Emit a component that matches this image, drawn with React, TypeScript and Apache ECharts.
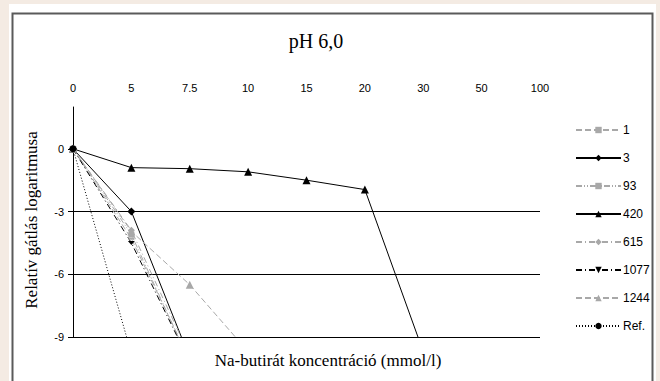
import React, { useEffect, useRef } from 'react';
import * as echarts from 'echarts';

// Na-butyrate concentrations (mmol/l), shown as evenly spaced categories
const concentrations = ['0', '5', '7.5', '10', '15', '20', '30', '50', '100'];
const yTickValues = [-9, -6, -3, 0];

// log relative inhibition per strain
const strainNames = ['1', '3', '93', '420', '615', '1077', '1244', 'Ref.'];
const values1 = [0, -4.3, -10.1];
const values3 = [0, -3.0, -10.0];
const values93 = [0, -4.1, -10.2];
const values420 = [0, -0.9, -0.95, -1.1, -1.5, -1.95, -9.7];
const values615 = [0, -3.9, -9.9];
const values1077 = [0, -4.5, -10.2];
const values1244 = [0, -3.95, -6.5, -9.7];
const valuesRef = [0, -9.8];

const GRAY = '#a8a8a8';
const BLACK = '#000000';
const SERIF = '"Liberation Serif", "Times New Roman", serif';

export default function App() {
  const ref = useRef<HTMLDivElement>(null);

  useEffect(() => {
    if (!ref.current) return;
    document.body.style.background = '#f4ebe3';
    const chart = echarts.init(ref.current, undefined, { renderer: 'svg' });

    const mk = (
      name: string,
      data: number[],
      color: string,
      dash: any,
      symbol: string,
      symbolSize: any,
    ) => ({
      name,
      type: 'line',
      data,
      symbol,
      symbolSize,
      showSymbol: true,
      clip: true,
      itemStyle: { color },
      lineStyle: { color, width: 1, type: dash },
      z: 5,
    });

    const series = [
      mk(strainNames[0], values1, GRAY, [6, 3], 'rect', [6, 2]),
      mk(strainNames[1], values3, BLACK, 'solid', 'diamond', 8),
      mk(strainNames[2], values93, GRAY, [6, 2, 1, 2, 1, 2], 'rect', 6),
      mk(strainNames[3], values420, BLACK, 'solid', 'triangle', 8),
      mk(strainNames[4], values615, GRAY, [6, 3, 1, 3], 'diamond', 7),
      mk(strainNames[5], values1077, BLACK, [6, 3, 1, 3], 'path://M0,0L10,0L5,6Z', [7, 4]),
      mk(strainNames[6], values1244, GRAY, [6, 3], 'triangle', 8),
      mk(strainNames[7], valuesRef, BLACK, [1, 2], 'circle', 7),
    ];

    chart.setOption({
      animation: false,
      backgroundColor: 'transparent',
      textStyle: { fontFamily: 'Liberation Sans, Arial, sans-serif' },
      graphic: [
        {
          type: 'rect',
          z: -10,
          shape: { x: 9, y: 4, width: 647, height: 400 },
          style: { fill: '#ffffff' },
          silent: true,
        },
        {
          type: 'rect',
          z: -9,
          shape: { x: 12.5, y: 13.5, width: 640, height: 380 },
          style: { fill: '#ffffff', stroke: '#5a5a5a', lineWidth: 2 },
          silent: true,
        },
        {
          type: 'text',
          x: 328,
          y: 360,
          style: {
            text: 'Na-butirát koncentráció (mmol/l)',
            font: '17px ' + SERIF,
            fill: '#000',
            align: 'center',
            verticalAlign: 'middle',
          },
        },
        {
          type: 'text',
          x: 31,
          y: 220,
          rotation: Math.PI / 2,
          style: {
            text: 'Relatív gátlás logaritmusa',
            font: '17px ' + SERIF,
            fill: '#000',
            align: 'center',
            verticalAlign: 'middle',
          },
        },
      ],
      title: {
        text: 'pH 6,0',
        left: 311,
        top: 26,
        textAlign: 'center',
        textStyle: {
          fontFamily: SERIF,
          fontSize: 20,
          fontWeight: 'normal',
          color: '#000',
        },
      },
      legend: {
        orient: 'vertical',
        left: 570,
        top: 119,
        itemWidth: 45,
        itemHeight: 8,
        itemGap: 16,
        data: strainNames,
        textStyle: { fontSize: 12, color: '#000', padding: [0, 0, 0, -3] },
      },
      grid: { left: 73, right: 120, top: 107, bottom: 44 },
      xAxis: {
        type: 'category',
        position: 'top',
        boundaryGap: false,
        data: concentrations,
        axisLine: { show: false },
        axisTick: { show: false },
        axisLabel: { color: '#000', fontSize: 11, margin: 14 },
        splitLine: { show: false },
      },
      yAxis: {
        type: 'value',
        min: -9,
        max: 2,
        interval: 3,
        axisLine: { show: true, lineStyle: { color: '#000', width: 1 } },
        axisTick: {
          show: true,
          length: 5,
          customValues: yTickValues,
          lineStyle: { color: '#000' },
        },
        axisLabel: {
          color: '#000',
          fontSize: 11,
          margin: 9,
          customValues: yTickValues,
        },
        splitLine: {
          show: true,
          showMaxLine: false,
          lineStyle: { color: '#000', width: 1 },
        },
      },
      series,
    });

    return () => chart.dispose();
  }, []);

  return (
    <div
      ref={ref}
      style={{ position: 'fixed', left: 0, top: 0, width: 660, height: 381, background: '#f4ebe3' }}
    />
  );
}
